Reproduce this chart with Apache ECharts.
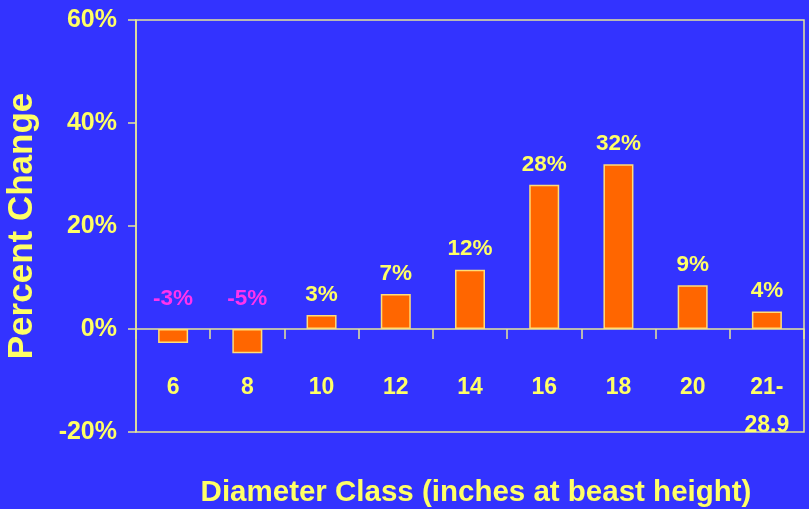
<!DOCTYPE html>
<html>
<head>
<meta charset="utf-8">
<script src="https://cdn.jsdelivr.net/npm/echarts@6/dist/echarts.min.js"></script>
<style>
html,body{margin:0;padding:0;background:#3333FF;}
#chart{width:809px;height:509px;}
</style>
</head>
<body>
<div id="chart"></div>
<script>
const categories = ['6', '8', '10', '12', '14', '16', '18', '20', '21-\n28.9'];
const values = [-2.7, -4.7, 2.7, 6.8, 11.5, 28.0, 32.0, 8.5, 3.4];
const valueLabels = ['-3%', '-5%', '3%', '7%', '12%', '28%', '32%', '9%', '4%'];
const yTicks = { min: -20, max: 60, interval: 20 };
const xTitle = 'Diameter Class (inches at beast height)';
const yTitle = 'Percent Change';

const FONT = '"Liberation Sans", Arial, sans-serif';
const YELLOW = '#FFFF66';
const MAGENTA = '#FF33EE';
const FRAME = '#E6E699';

const chart = echarts.init(document.getElementById('chart'), null, { renderer: 'canvas' });

const seriesData = values.map((v, i) => ({
  value: v,
  label: {
    formatter: valueLabels[i],
    color: v < 0 ? MAGENTA : YELLOW,
    distance: v < 0 ? 19 : 9
  }
}));

chart.setOption({
  backgroundColor: '#3333FF',
  animation: false,
  title: {
    text: xTitle,
    left: 471,
    top: 473,
    textAlign: 'center',
    textStyle: { color: YELLOW, fontFamily: FONT, fontWeight: 'bold', fontSize: 29.5 }
  },
  grid: {
    left: 136, right: 5, top: 20, bottom: 77,
    outerBoundsMode: 'none',
    containLabel: false,
    show: true, borderColor: FRAME, borderWidth: 1.5, backgroundColor: 'transparent'
  },
  xAxis: {
    type: 'category',
    data: categories,
    boundaryGap: true,
    axisLine: { onZero: true, lineStyle: { color: FRAME, width: 1.5 } },
    axisTick: { show: true, inside: false, length: 10, alignWithLabel: false, lineStyle: { color: FRAME, width: 1.5 } },
    axisLabel: {
      color: YELLOW, fontFamily: FONT, fontWeight: 'bold', fontSize: 23,
      margin: -63, lineHeight: 38, interval: 0
    },
    splitLine: { show: false }
  },
  yAxis: {
    type: 'value',
    min: yTicks.min, max: yTicks.max, interval: yTicks.interval,
    name: yTitle,
    nameLocation: 'middle',
    nameGap: 96,
    nameRotate: 90,
    nameTextStyle: { color: YELLOW, fontFamily: FONT, fontWeight: 'bold', fontSize: 35 },
    axisLine: { show: true, lineStyle: { color: FRAME, width: 1.5 } },
    axisTick: { show: true, inside: false, length: 8, lineStyle: { color: FRAME, width: 1.5 } },
    axisLabel: {
      formatter: '{value}%', color: YELLOW, fontFamily: FONT, fontWeight: 'bold', fontSize: 25, margin: 19
    },
    splitLine: { show: false }
  },
  series: [{
    type: 'bar',
    data: seriesData,
    barWidth: 30,
    itemStyle: { color: '#FF6600', borderColor: '#FFDD77', borderWidth: 1.5 },
    label: {
      show: true, position: 'top',
      fontFamily: FONT, fontWeight: 'bold', fontSize: 22.5
    }
  }]
});
</script>
</body>
</html>
